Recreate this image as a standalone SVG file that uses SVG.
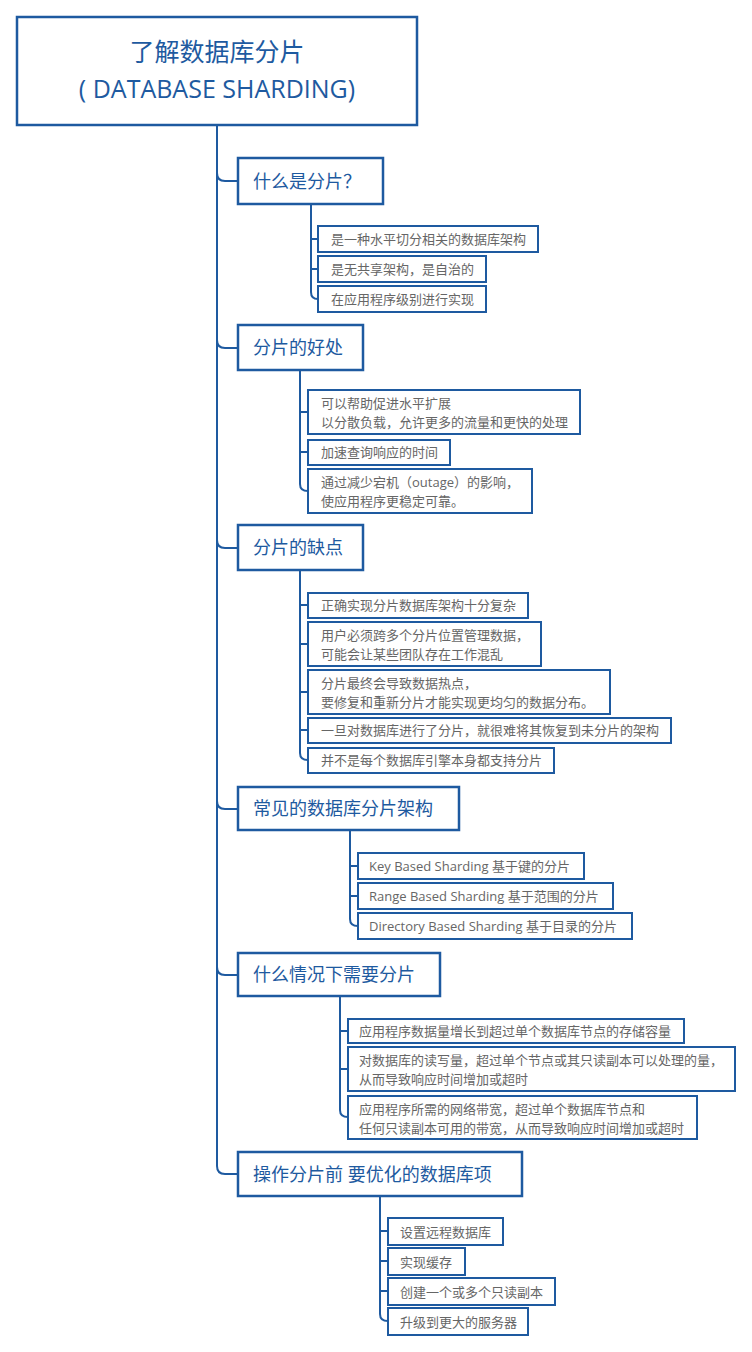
<svg xmlns="http://www.w3.org/2000/svg" width="752" height="1352" viewBox="0 0 752 1352">
<style>
.bx{fill:#fff;stroke:#1E5AA0;stroke-width:2.5}
.lf{fill:#fff;stroke:#1E5AA0;stroke-width:2}
.c{fill:none;stroke:#1E5AA0;stroke-width:2}
.t1{font-family:"Open Sans","Noto Sans CJK SC",sans-serif;font-size:25px;fill:#1E5AA0}
.t2{font-family:"Open Sans","Noto Sans CJK SC",sans-serif;font-size:18px;fill:#1E5AA0}
.t3{font-family:"Open Sans","Noto Sans CJK SC",sans-serif;font-size:13px;fill:#666}
</style>
<rect width="752" height="1352" fill="#fff"/>
<g id="connectors">
<path class="c" d="M217,125 V1166 Q217,1174 225,1174 H238"/>
<path class="c" d="M217,173 Q217,181 225,181 H238 M217,340 Q217,348 225,348 H238 M217,540 Q217,548 225,548 H238 M217,801 Q217,809 225,809 H238 M217,967 Q217,975 225,975 H238"/>
<path class="c" d="M311,203 V292 Q311,299 318,299 H318 M311,239 H318 M311,269 H318"/>
<path class="c" d="M300,370 V484 Q300,491 308,491 M300,412 H308 M300,452 H308"/>
<path class="c" d="M300,570 V753 Q300,760 308,760 M300,605 H308 M300,644 H308 M300,692 H308 M300,730 H308"/>
<path class="c" d="M350,830 V919 Q350,926 358,926 M350,866 H358 M350,896 H358"/>
<path class="c" d="M340,996 V1110 Q340,1117 348,1117 M340,1031 H348 M340,1069 H348"/>
<path class="c" d="M380,1196 V1314 Q380,1321 388,1321 M380,1231 H388 M380,1261 H388 M380,1291 H388"/>
</g>
<g id="root"><rect class="bx" x="17" y="17" width="400" height="108"/>
<text class="t1" x="217" y="61" text-anchor="middle">了解数据库分片</text>
<text class="t1" x="217" y="98" text-anchor="middle">( DATABASE SHARDING)</text></g>
<g id="b1"><rect class="bx" x="238" y="158" width="145" height="46"/><text class="t2" x="253" y="188">什么是分片？</text></g>
<g id="b2"><rect class="bx" x="238" y="325" width="125" height="45"/><text class="t2" x="253" y="354">分片的好处</text></g>
<g id="b3"><rect class="bx" x="238" y="525" width="125" height="45"/><text class="t2" x="253" y="554">分片的缺点</text></g>
<g id="b4"><rect class="bx" x="238" y="787" width="221" height="43"/><text class="t2" x="253" y="815">常见的数据库分片架构</text></g>
<g id="b5"><rect class="bx" x="238" y="953" width="202" height="43"/><text class="t2" x="253" y="981">什么情况下需要分片</text></g>
<g id="b6"><rect class="bx" x="238" y="1152" width="284" height="44"/><text class="t2" x="253" y="1181">操作分片前 要优化的数据库项</text></g>
<g id="l1"><rect class="lf" x="318" y="226" width="220" height="26"/><text class="t3" x="331" y="244">是一种水平切分相关的数据库架构</text>
<rect class="lf" x="318" y="256" width="168" height="26"/><text class="t3" x="331" y="274">是无共享架构，是自治的</text>
<rect class="lf" x="318" y="286" width="168" height="26"/><text class="t3" x="331" y="304">在应用程序级别进行实现</text></g>
<g id="l2"><rect class="lf" x="308" y="390" width="272" height="44"/><text class="t3" x="321" y="408">可以帮助促进水平扩展</text><text class="t3" x="321" y="427">以分散负载，允许更多的流量和更快的处理</text>
<rect class="lf" x="308" y="440" width="142" height="25"/><text class="t3" x="321" y="457">加速查询响应的时间</text>
<rect class="lf" x="308" y="469" width="224" height="44"/><text class="t3" x="321" y="487">通过减少宕机（outage）的影响，</text><text class="t3" x="321" y="506">使应用程序更稳定可靠。</text></g>
<g id="l3"><rect class="lf" x="308" y="593" width="220" height="25"/><text class="t3" x="321" y="610">正确实现分片数据库架构十分复杂</text>
<rect class="lf" x="308" y="622" width="233" height="44"/><text class="t3" x="321" y="640">用户必须跨多个分片位置管理数据，</text><text class="t3" x="321" y="659">可能会让某些团队存在工作混乱</text>
<rect class="lf" x="308" y="670" width="302" height="44"/><text class="t3" x="321" y="688">分片最终会导致数据热点，</text><text class="t3" x="321" y="707">要修复和重新分片才能实现更均匀的数据分布。</text>
<rect class="lf" x="308" y="718" width="363" height="25"/><text class="t3" x="321" y="735">一旦对数据库进行了分片，就很难将其恢复到未分片的架构</text>
<rect class="lf" x="308" y="748" width="246" height="25"/><text class="t3" x="321" y="765">并不是每个数据库引擎本身都支持分片</text></g>
<g id="l4"><rect class="lf" x="358" y="853" width="226" height="26"/><text class="t3" x="369" y="871">Key Based Sharding 基于键的分片</text>
<rect class="lf" x="358" y="883" width="255" height="26"/><text class="t3" x="369" y="901">Range Based Sharding 基于范围的分片</text>
<rect class="lf" x="358" y="913" width="274" height="26"/><text class="t3" x="369" y="931">Directory Based Sharding 基于目录的分片</text></g>
<g id="l5"><rect class="lf" x="348" y="1019" width="336" height="24"/><text class="t3" x="359" y="1036">应用程序数据量增长到超过单个数据库节点的存储容量</text>
<rect class="lf" x="348" y="1047" width="387" height="44"/><text class="t3" x="359" y="1065">对数据库的读写量，超过单个节点或其只读副本可以处理的量，</text><text class="t3" x="359" y="1084">从而导致响应时间增加或超时</text>
<rect class="lf" x="348" y="1096" width="349" height="43"/><text class="t3" x="359" y="1114">应用程序所需的网络带宽，超过单个数据库节点和</text><text class="t3" x="359" y="1133">任何只读副本可用的带宽，从而导致响应时间增加或超时</text></g>
<g id="l6"><rect class="lf" x="388" y="1218" width="115" height="27"/><text class="t3" x="400" y="1237">设置远程数据库</text>
<rect class="lf" x="388" y="1248" width="77" height="27"/><text class="t3" x="400" y="1267">实现缓存</text>
<rect class="lf" x="388" y="1278" width="167" height="27"/><text class="t3" x="400" y="1297">创建一个或多个只读副本</text>
<rect class="lf" x="388" y="1308" width="140" height="27"/><text class="t3" x="400" y="1327">升级到更大的服务器</text></g>
</svg>
